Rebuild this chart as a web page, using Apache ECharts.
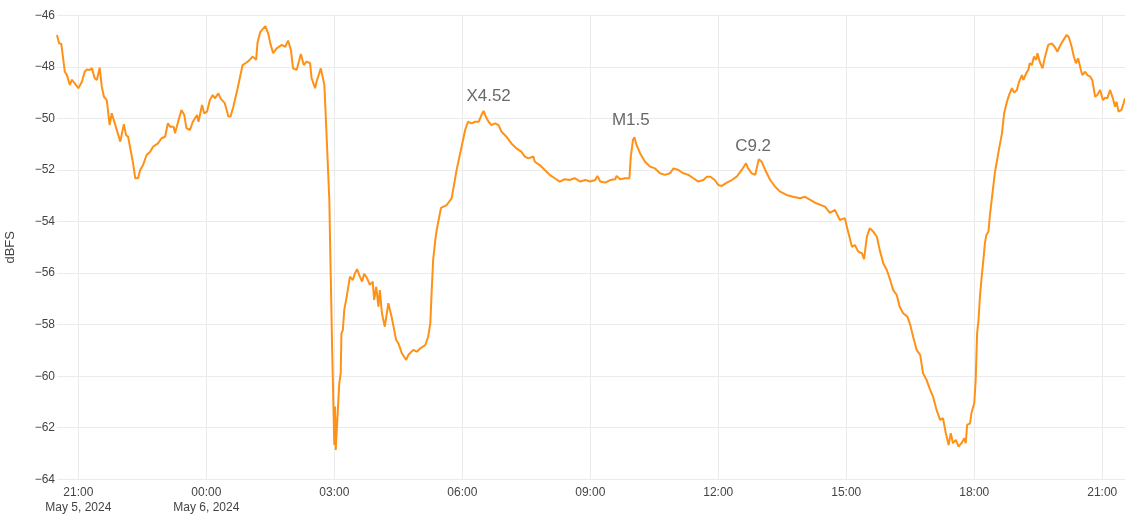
<!DOCTYPE html>
<html>
<head>
<meta charset="utf-8">
<script src="https://cdn.jsdelivr.net/npm/echarts@6/dist/echarts.min.js"></script>
<style>
html,body{margin:0;padding:0;background:#fff;}
#chart{width:1125px;height:519px;}
</style>
</head>
<body>
<div id="chart"></div>
<script>
// minutes relative to 2024-05-06 00:00 (negative = May 5)
const minutesFromMidnight = [
-210,-207,-204,-199,-196,-192,-189,-185,-180,-175,
-171,-168,-164,-161,-157,-154,-150,-147,-144,-140,
-136,-133,-128,-126,-121,-116,-113,-110,-103,-100,
-96,-93,-89,-84,-79,-75,-68,-63,-58,-54,
-51,-46,-44,-39,-35,-31,-28,-23,-19,-13,
-11,-6,-3,1,5,9,12,17,20,26,
31,34,38,43,46,51,56,60,65,70,
72,76,83,87,90,94,99,106,111,115,
119,122,127,133,137,141,146,148,153,155,
161,166,168,173,174,177,180,181,182,187,
189,190,192,194,197,202,206,209,212,216,
219,222,226,230,234,236,239,242,244,247,
251,256,261,263,267,270,275,281,284,291,
296,301,308,312,315,317,319,322,324,330,
338,345,352,359,364,368,373,378,383,387,
390,393,397,401,406,411,415,422,429,436,
443,448,453,460,462,469,476,483,490,497,
504,511,518,526,533,540,547,550,554,561,
568,575,577,582,589,595,597,600,602,605,
610,617,624,631,638,645,652,657,664,671,
678,685,692,699,704,709,715,720,725,732,
739,746,753,759,762,767,772,774,777,781,
786,793,800,807,816,825,835,842,856,870,
877,884,891,898,902,908,912,917,922,925,
929,933,938,943,947,952,957,961,966,971,
975,980,986,990,994,999,1004,1008,1013,1018,
1022,1027,1032,1036,1040,1044,1047,1050,1054,1058,
1062,1066,1068,1070,1074,1076,1080,1082,1084,1086,
1088,1090,1093,1095,1097,1100,1102,1104,1109,1115,
1119,1122,1126,1129,1133,1136,1140,1143,1147,1149,
1153,1156,1158,1161,1164,1167,1169,1172,1176,1179,
1184,1189,1193,1197,1200,1204,1206,1210,1213,1217,
1220,1223,1226,1230,1232,1236,1239,1243,1246,1250,
1253,1257,1261,1264,1267,1271,1275,1278,1280,1283,
1287,1290,1292
];
const dbfs = [
-46.76,-47.09,-47.10,-48.19,-48.32,-48.70,-48.50,-48.64,-48.83,-48.58,
-48.19,-48.10,-48.12,-48.05,-48.44,-48.51,-48.03,-48.77,-49.16,-49.29,
-50.26,-49.80,-50.26,-50.26,-50.90,-50.22,-50.64,-50.71,-51.74,-52.32,
-52.32,-52.00,-51.81,-51.42,-51.29,-51.10,-50.97,-50.77,-50.71,-50.19,
-50.32,-50.32,-50.58,-50.06,-49.67,-49.87,-50.38,-50.45,-50.13,-49.87,
-50.13,-49.48,-49.80,-49.74,-49.29,-49.09,-49.22,-49.03,-49.22,-49.41,
-49.93,-49.93,-49.55,-48.96,-48.58,-47.93,-47.84,-47.76,-47.60,-47.73,
-47.06,-46.64,-46.42,-46.70,-47.09,-47.47,-47.28,-47.15,-47.22,-46.98,
-47.35,-48.06,-48.12,-47.50,-47.93,-47.80,-47.86,-48.44,-48.83,-48.58,
-48.06,-48.70,-49.93,-53.16,-54.72,-59.00,-62.67,-61.18,-62.86,-60.27,
-59.89,-58.34,-58.21,-57.43,-56.98,-56.14,-56.27,-56.01,-55.85,-56.14,
-56.33,-56.03,-56.20,-56.46,-56.33,-57.04,-56.53,-57.30,-56.66,-57.56,
-58.08,-57.17,-57.75,-57.82,-58.60,-58.72,-59.11,-59.37,-59.18,-58.98,
-59.05,-58.92,-58.79,-58.47,-57.95,-56.66,-55.49,-54.72,-54.33,-53.47,
-53.36,-53.10,-52.00,-51.10,-50.45,-50.13,-50.19,-50.13,-50.13,-49.87,
-49.71,-49.93,-50.13,-50.26,-50.19,-50.26,-50.51,-50.71,-50.97,-51.16,
-51.29,-51.48,-51.55,-51.48,-51.68,-51.81,-52.00,-52.19,-52.32,-52.45,
-52.36,-52.39,-52.32,-52.45,-52.39,-52.45,-52.39,-52.23,-52.45,-52.49,
-52.39,-52.36,-52.23,-52.36,-52.32,-52.32,-51.48,-50.84,-50.73,-51.03,
-51.35,-51.68,-51.87,-51.94,-52.13,-52.19,-52.13,-51.94,-52.00,-52.13,
-52.19,-52.32,-52.45,-52.39,-52.26,-52.26,-52.39,-52.58,-52.62,-52.49,
-52.39,-52.26,-52.00,-51.74,-51.94,-52.13,-52.19,-51.94,-51.58,-51.68,
-52.00,-52.39,-52.65,-52.84,-52.97,-53.04,-53.10,-53.04,-53.27,-53.42,
-53.66,-53.55,-53.94,-53.87,-54.33,-54.98,-54.91,-55.17,-55.23,-55.46,
-54.59,-54.26,-54.39,-54.59,-55.10,-55.62,-55.88,-56.20,-56.66,-56.85,
-57.30,-57.56,-57.69,-58.01,-58.47,-58.98,-59.18,-59.89,-60.15,-60.53,
-60.79,-61.31,-61.70,-61.63,-62.21,-62.67,-62.21,-62.60,-62.47,-62.73,
-62.60,-62.41,-62.60,-61.89,-61.83,-61.44,-61.05,-60.15,-58.34,-57.82,
-56.92,-56.27,-55.43,-54.84,-54.52,-54.39,-53.75,-53.29,-52.10,-51.16,
-50.58,-49.80,-49.35,-49.09,-48.83,-49.00,-48.90,-48.58,-48.32,-48.51,
-48.25,-48.12,-47.86,-47.93,-47.60,-47.73,-47.47,-47.80,-48.06,-47.67,
-47.15,-47.09,-47.22,-47.41,-47.22,-47.02,-47.05,-46.76,-46.85,-47.22,
-47.60,-47.86,-47.67,-48.12,-48.32,-48.19,-48.32,-48.38,-48.51,-49.16,
-49.09,-48.90,-49.29,-49.20,-49.22,-48.90,-49.22,-49.55,-49.35,-49.74,
-49.67,-49.41,-49.22
];
// annotations (flare labels)
const annoLabels = ['X4.52', 'M1.5', 'C9.2'];
const annoMinutes = [397, 597, 769];
const annoValues = [-49.13, -50.06, -51.07];

// x tick positions (minutes relative to 2024-05-06 00:00): 21:00 … 21:00
const tickMinutes = [-180, 0, 180, 360, 540, 720, 900, 1080, 1260];

const xMinMinutes = -210;
const xMaxMinutes = 1292;
const yMin = -64, yMax = -46, yStep = 2;

const base = new Date(2024, 4, 6, 0, 0, 0).getTime();
const toTs = m => base + m * 60000;

const lineData = minutesFromMidnight.map((m, i) => [toTs(m), dbfs[i]]);
const annoData = annoLabels.map((l, i) => ({ value: [toTs(annoMinutes[i]), annoValues[i]], name: l }));
const tickTs = tickMinutes.map(toTs);

const months = ['Jan','Feb','Mar','Apr','May','Jun','Jul','Aug','Sep','Oct','Nov','Dec'];
const pad = n => (n < 10 ? '0' : '') + n;
const FONT = '"Liberation Sans", Arial, sans-serif';

const chart = echarts.init(document.getElementById('chart'), null, { renderer: 'canvas' });
chart.setOption({
  animation: false,
  backgroundColor: '#ffffff',
  grid: { left: 57, right: 0, top: 15.3, bottom: 39.7, containLabel: false, outerBoundsMode: 'none' },
  xAxis: {
    type: 'value',
    min: toTs(xMinMinutes),
    max: toTs(xMaxMinutes),
    axisLine: { show: false },
    axisTick: { show: false, customValues: tickTs },
    splitLine: { show: true, lineStyle: { color: '#ebebeb', width: 1 } },
    axisLabel: {
      customValues: tickTs,
      color: '#444',
      fontSize: 12,
      fontFamily: FONT,
      lineHeight: 15,
      margin: 6,
      hideOverlap: false,
      formatter: function (val) {
        const d = new Date(val);
        const hm = pad(d.getHours()) + ':' + pad(d.getMinutes());
        if (val === tickTs[0] || (d.getHours() === 0 && d.getMinutes() === 0)) {
          return hm + '\n' + months[d.getMonth()] + ' ' + d.getDate() + ', ' + d.getFullYear();
        }
        return hm;
      }
    }
  },
  yAxis: {
    type: 'value',
    min: yMin,
    max: yMax,
    interval: yStep,
    name: 'dBFS',
    nameLocation: 'middle',
    nameGap: 40,
    nameTextStyle: { color: '#444', fontSize: 13, fontFamily: FONT },
    axisLine: { show: false },
    axisTick: { show: false },
    splitLine: { show: true, lineStyle: { color: '#ebebeb', width: 1 } },
    axisLabel: {
      color: '#444',
      fontSize: 12,
      fontFamily: FONT,
      margin: 2,
      formatter: v => String(v).replace('-', '\u2212')
    }
  },
  series: [
    {
      type: 'line',
      data: lineData,
      showSymbol: false,
      symbol: 'none',
      lineStyle: { color: '#ff9117', width: 2 },
      itemStyle: { color: '#ff9117' },
      z: 2
    },
    {
      type: 'scatter',
      data: annoData,
      symbolSize: 1,
      itemStyle: { color: 'rgba(0,0,0,0)' },
      silent: true,
      label: {
        show: true,
        position: 'inside',
        formatter: p => p.name,
        color: '#444',
        fontSize: 17,
        fontFamily: FONT
      },
      z: 3
    }
  ]
});
</script>
</body>
</html>
